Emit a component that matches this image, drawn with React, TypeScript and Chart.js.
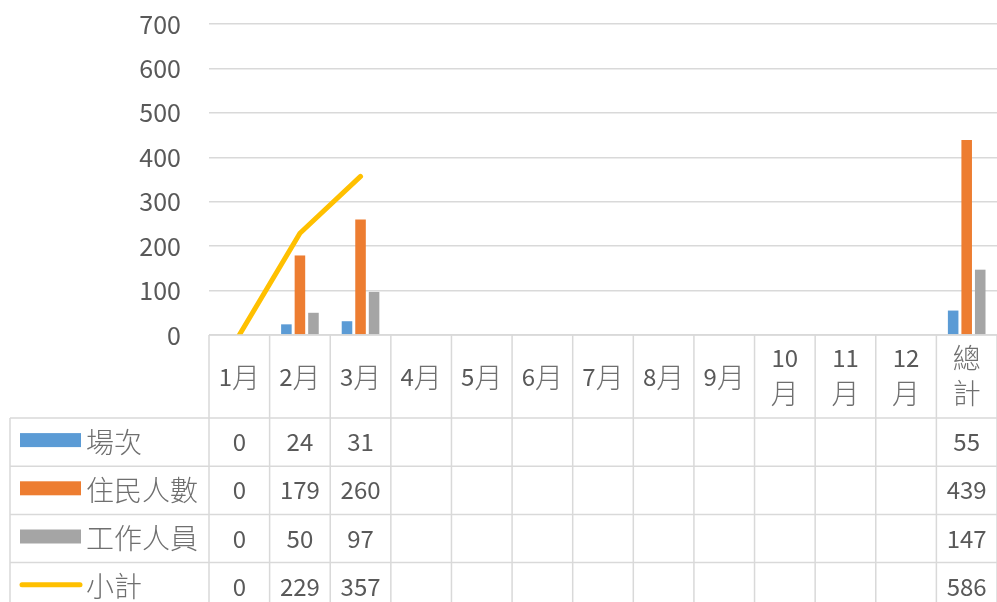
import React, { useEffect, useRef } from "react";
import { Chart, registerables } from "chart.js";

Chart.register(...registerables);

const categories = ["1月", "2月", "3月", "4月", "5月", "6月", "7月", "8月", "9月", "10月", "11月", "12月", "總計"];
const headerLabels: string[][] = [
  ["1月"], ["2月"], ["3月"], ["4月"], ["5月"], ["6月"], ["7月"], ["8月"], ["9月"],
  ["10", "月"], ["11", "月"], ["12", "月"], ["總", "計"],
];
const sessions: (number | null)[] = [0, 24, 31, null, null, null, null, null, null, null, null, null, 55];
const residents: (number | null)[] = [0, 179, 260, null, null, null, null, null, null, null, null, null, 439];
const staff: (number | null)[] = [0, 50, 97, null, null, null, null, null, null, null, null, null, 147];
const subtotal: (number | null)[] = [0, 229, 357, null, null, null, null, null, null, null, null, null, 586];
const seriesNames = ["場次", "住民人數", "工作人員", "小計"];
const seriesColors = ["#5B9BD5", "#ED7D31", "#A5A5A5", "#FFC000"];
const yMin = 0;
const yMax = 700;
const yStep = 100;

const FONT = "'Noto Sans CJK TC', 'Noto Sans', sans-serif";
const TEXT = "#595959";
const CJK_TEXT = "#6f6f6f";
const GRID = "#d9d9d9";
const DIGIT_FONT = "24px " + FONT;
const CJK_FONT = "300 28px " + FONT;

function drawMixed(ctx: CanvasRenderingContext2D, text: string, x: number, y: number, align: "left" | "center") {
  const runs: { s: string; f: string; c: string }[] = [];
  for (const ch of Array.from(text)) {
    const ascii = ch.charCodeAt(0) < 128;
    const f = ascii ? DIGIT_FONT : CJK_FONT;
    const c = ascii ? TEXT : CJK_TEXT;
    if (runs.length && runs[runs.length - 1].f === f) runs[runs.length - 1].s += ch;
    else runs.push({ s: ch, f, c });
  }
  let total = 0;
  const widths = runs.map((r) => {
    ctx.font = r.f;
    const w = ctx.measureText(r.s).width;
    total += w;
    return w;
  });
  let cx = align === "center" ? x - total / 2 : x;
  ctx.textAlign = "left";
  ctx.textBaseline = "middle";
  runs.forEach((r, i) => {
    ctx.font = r.f;
    ctx.fillStyle = r.c;
    ctx.fillText(r.s, cx, y);
    cx += widths[i];
  });
}

const tablePlugin = {
  id: "dataTable",
  afterDraw(chart: any) {
    const { ctx, chartArea } = chart;
    const xs = chart.scales.x;
    const n = categories.length;
    const colW = (chartArea.right - chartArea.left) / n;
    const top = chartArea.bottom;
    const headerBottom = top + 83;
    const rowH = 48.2;
    const tableLeft = 10;
    const W = chart.width;
    const H = chart.height;
    ctx.save();
    ctx.strokeStyle = GRID;
    ctx.lineWidth = 1.5;
    const line = (x1: number, y1: number, x2: number, y2: number) => {
      ctx.beginPath();
      ctx.moveTo(x1, y1);
      ctx.lineTo(x2, y2);
      ctx.stroke();
    };
    line(chartArea.left, top, W, top);
    for (let k = 0; k <= n; k++) {
      const xx = chartArea.left + k * colW;
      line(xx, top, xx, H);
    }
    line(tableLeft, headerBottom, tableLeft, H);
    for (let r = 0; r < 4; r++) {
      const y = headerBottom + r * rowH;
      line(tableLeft, y, W, y);
    }
    headerLabels.forEach((lbl, i) => {
      const cx = xs.getPixelForValue(i);
      if (lbl.length === 1) {
        drawMixed(ctx, lbl[0], cx, top + 42, "center");
      } else {
        drawMixed(ctx, lbl[0], cx, top + 23, "center");
        drawMixed(ctx, lbl[1], cx, top + 58, "center");
      }
    });
    const series = [sessions, residents, staff, subtotal];
    series.forEach((vals, r) => {
      const cy = headerBottom + r * rowH + rowH / 2;
      if (r < 3) {
        ctx.fillStyle = seriesColors[r];
        ctx.fillRect(20, cy - 9, 61, 14);
      } else {
        ctx.strokeStyle = seriesColors[r];
        ctx.lineWidth = 5;
        ctx.lineCap = "round";
        line(22, cy - 2, 80, cy - 2);
      }
      drawMixed(ctx, seriesNames[r], 86, cy, "left");
      vals.forEach((v, i) => {
        if (v === null || v === undefined) return;
        drawMixed(ctx, String(v), xs.getPixelForValue(i), cy, "center");
      });
    });
    ctx.restore();
  },
};

export default function App() {
  const ref = useRef<HTMLCanvasElement>(null);
  useEffect(() => {
    if (!ref.current) return;
    const chart = new Chart(ref.current, {
      type: "bar",
      data: {
        labels: categories,
        datasets: [
          { type: "line", label: seriesNames[3], data: subtotal.slice(0, 12), borderColor: seriesColors[3], backgroundColor: seriesColors[3], borderWidth: 5, pointRadius: 0, borderCapStyle: "round", borderJoinStyle: "round", spanGaps: false, order: 0 } as any,
          { label: seriesNames[0], data: sessions, backgroundColor: seriesColors[0], order: 1 },
          { label: seriesNames[1], data: residents, backgroundColor: seriesColors[1], order: 1 },
          { label: seriesNames[2], data: staff, backgroundColor: seriesColors[2], order: 1 },
        ],
      },
      options: {
        responsive: false,
        animation: false,
        devicePixelRatio: 1,
        layout: { padding: { left: 0, top: 24, right: -3, bottom: 267 } },
        datasets: { bar: { categoryPercentage: 0.67, barPercentage: 0.78 } },
        plugins: { legend: { display: false }, tooltip: { enabled: false } },
        scales: {
          x: { display: false },
          y: {
            min: yMin,
            max: yMax,
            ticks: { stepSize: yStep, padding: 28, color: TEXT, font: { family: FONT, size: 25 } },
            grid: { color: GRID, lineWidth: 1.5, drawTicks: false },
            border: { display: false },
            afterFit: (s: any) => { s.width = 209; s.paddingTop = 0; s.paddingBottom = 0; },
          },
        },
      } as any,
      plugins: [tablePlugin],
    });
    return () => chart.destroy();
  }, []);
  return (
    <div style={{ position: "absolute", left: 0, top: 0, width: 997, height: 602, background: "#fff" }}>
      <canvas ref={ref} width={997} height={602} />
    </div>
  );
}
